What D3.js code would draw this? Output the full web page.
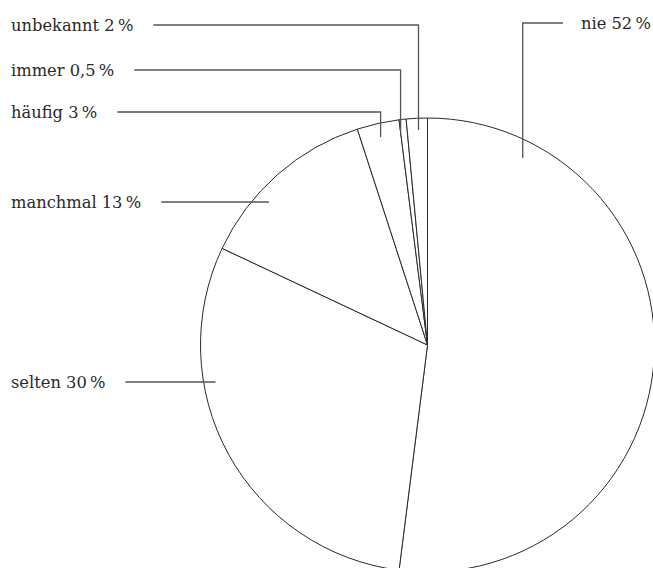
<!DOCTYPE html>
<html><head><meta charset="utf-8">
<script src="https://cdn.jsdelivr.net/npm/d3@7"></script>
<style>body{margin:0;background:#fff}svg{display:block}</style>
</head><body>
<script>
const categories = ["nie", "selten", "manchmal", "häufig", "immer", "unbekannt"];
const values = [52, 30, 13, 3, 0.5, 2];
const valueLabels = ["52", "30", "13", "3", "0,5", "2"];
// label layout: side, label y, anchor angle (deg, clockwise from top), anchor radius fraction
const labelSide = ["right", "left", "left", "left", "left", "left"];
const labelY = [23, 382, 202, 112, 70, 25];
const anchorAngle = [27, 260.1, 312, 347.3, 352.8, 357.6];
const anchorRadius = [0.924, 0.948, 0.94, 0.939, 0.946, 0.948];

const W = 653, H = 568;
const cx = 427.5, cy = 345, R = 227;
const svg = d3.select("body").append("svg").attr("width", W).attr("height", H);
const g = svg.append("g").attr("transform", `translate(${cx},${cy})`);
// percentages mapped to angle on a 0..100 scale (total exceeds 100 by rounding; clamp at full circle)
const angle = d3.scaleLinear().domain([0, 100]).range([0, 2 * Math.PI]).clamp(true);
const cum = d3.cumsum(values);
const slices = values.map((v, i) => ({
  value: v, startAngle: angle(cum[i] - v), endAngle: angle(cum[i])
}));
const arc = d3.arc().innerRadius(0).outerRadius(R);
g.selectAll("path").data(slices).join("path")
  .attr("d", arc).attr("fill", "#fff").attr("stroke", "#2a2a2a").attr("stroke-width", 1);

const font = "'DejaVu Serif', serif";
const fs = 16.3;
categories.forEach((c, i) => {
  const a = anchorAngle[i] * Math.PI / 180;
  const ax = cx + R * anchorRadius[i] * Math.sin(a);
  const ay = cy - R * anchorRadius[i] * Math.cos(a);
  const ly = labelY[i];
  const t = svg.append("text").attr("y", ly).attr("dy", "0.35em")
    .attr("font-family", font).attr("font-size", fs).attr("fill", "#2a2a2a")
    .text(`${c} ${valueLabels[i]}\u2009%`);
  let pts;
  if (labelSide[i] === "left") {
    t.attr("x", 11);
    const tw = t.node().getComputedTextLength();
    const sx = 11 + tw + 20;
    pts = Math.abs(ay - ly) < 1 ? [[sx, ly], [ax, ly]] : [[sx, ly], [ax, ly], [ax, ay]];
  } else {
    t.attr("x", 581);
    pts = [[563, ly], [ax, ly], [ax, ay]];
  }
  svg.append("path").attr("d", d3.line()(pts)).attr("fill", "none")
    .attr("stroke", "#555").attr("stroke-width", 1.3);
});
</script>
</body></html>
